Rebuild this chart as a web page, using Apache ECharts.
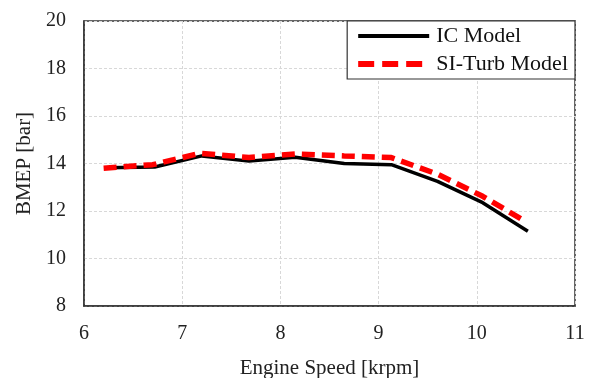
<!DOCTYPE html>
<html><head><meta charset="utf-8">
<script src="https://cdn.jsdelivr.net/npm/echarts@6/dist/echarts.min.js"></script>
<style>html,body{margin:0;padding:0;background:#fff}#c{width:595px;height:378px}</style>
</head><body><div id="c"></div>
<script>
const speedIC = [6.22, 6.72, 7.2, 7.68, 8.15, 8.65, 9.13, 9.6, 10.06, 10.52];
const bmepIC = [13.82, 13.85, 14.32, 14.1, 14.26, 14.0, 13.95, 13.25, 12.35, 11.15];
const speedSI = [6.2, 6.7, 7.18, 7.68, 8.15, 8.65, 9.13, 9.6, 10.06, 10.5];
const bmepSI = [13.8, 13.95, 14.43, 14.25, 14.4, 14.32, 14.25, 13.55, 12.62, 11.55];
const seriesNames = ['IC Model', 'SI-Turb Model'];
const xTicks = [6, 7, 8, 9, 10, 11];
const yTicks = [8, 10, 12, 14, 16, 18, 20];

const font = '"Liberation Serif", "Times New Roman", serif';
const chart = echarts.init(document.getElementById('c'), null, {renderer: 'canvas'});
chart.setOption({
  animation: false,
  backgroundColor: '#fff',
  grid: {left: 84, top: 21, right: 20, bottom: 72, outerBoundsMode: 'none', containLabel: false,
         show: true, borderColor: '#333', borderWidth: 1.5, backgroundColor: 'transparent'},
  legend: {
    orient: 'vertical', right: 20, top: 21,
    backgroundColor: '#fff', borderColor: '#333', borderWidth: 1.2,
    padding: [4, 7, 4, 8], itemGap: 6, itemWidth: 71, itemHeight: 22,
    itemStyle: {opacity: 0},
    textStyle: {fontFamily: font, fontSize: 22, color: '#111', padding: [0, 0, 0, 2]},
    data: [
      {name: seriesNames[0], lineStyle: {color: '#000', width: 4}},
      {name: seriesNames[1], lineStyle: {color: '#ff0000', width: 6, type: [16, 8]}}
    ]
  },
  xAxis: {
    type: 'value', min: xTicks[0], max: xTicks[xTicks.length - 1], interval: 1,
    name: 'Engine Speed [krpm]', nameLocation: 'middle', nameGap: 52,
    nameTextStyle: {fontFamily: font, fontSize: 21, color: '#222'},
    axisLine: {show: true, lineStyle: {color: '#333', width: 1.5}},
    axisTick: {show: false},
    axisLabel: {fontFamily: font, fontSize: 20, color: '#222', margin: 18},
    splitLine: {show: true, lineStyle: {color: '#d8d8d8', type: [3, 2], width: 1}}
  },
  yAxis: {
    type: 'value', min: yTicks[0], max: yTicks[yTicks.length - 1], interval: 2,
    name: 'BMEP [bar]', nameLocation: 'middle', nameGap: 46,
    nameTextStyle: {fontFamily: font, fontSize: 21, color: '#222'},
    axisLine: {show: true, lineStyle: {color: '#333', width: 1.5}},
    axisTick: {show: false},
    axisLabel: {fontFamily: font, fontSize: 20, color: '#222', margin: 18},
    splitLine: {show: true, lineStyle: {color: '#d8d8d8', type: [3, 2], width: 1}}
  },
  series: [
    {name: seriesNames[0], type: 'line', symbol: 'none', z: 2,
     data: speedIC.map((x, i) => [x, bmepIC[i]]),
     lineStyle: {color: '#000', width: 3.5}, itemStyle: {color: '#000'}},
    {name: seriesNames[1], type: 'line', symbol: 'none', z: 3,
     data: speedSI.map((x, i) => [x, bmepSI[i]]),
     lineStyle: {color: '#ff0000', width: 5.5, type: [13, 7]}, itemStyle: {color: '#ff0000'}}
  ]
});
</script></body></html>
